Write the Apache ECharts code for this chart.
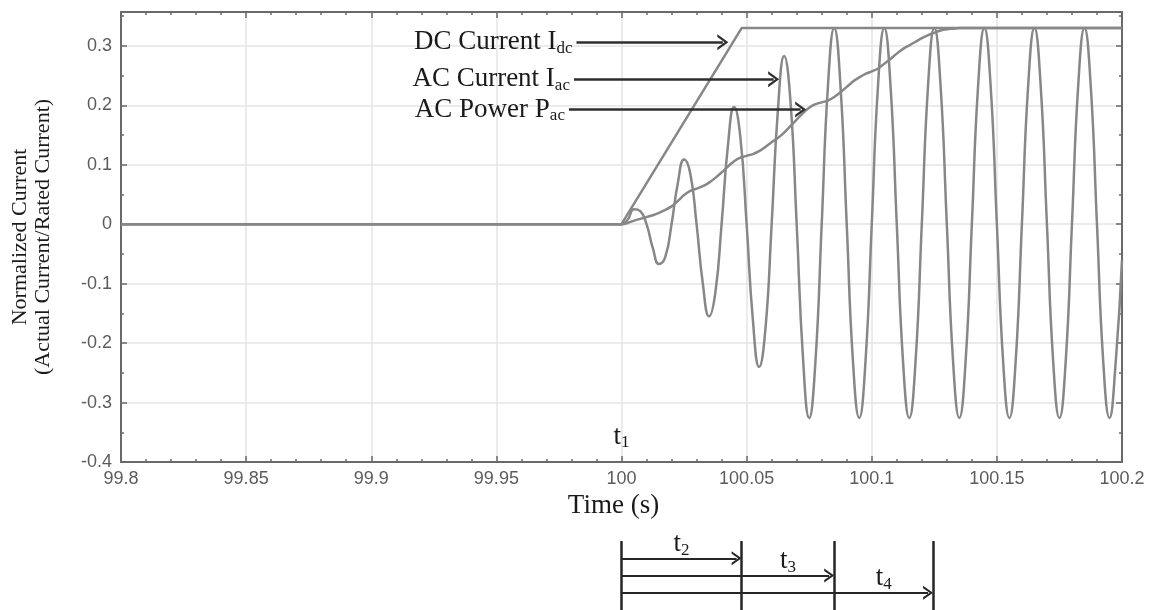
<!DOCTYPE html>
<html>
<head>
<meta charset="utf-8">
<title>Normalized current</title>
<script src="https://cdn.jsdelivr.net/npm/echarts@6/dist/echarts.min.js"></script>
<style>
  html, body { margin: 0; padding: 0; background: #fff; }
  #echarts-current-graph { width: 1153px; height: 610px; }
</style>
</head>
<body>
<div id="echarts-current-graph"></div>
<script>
// DC current ramp
const dcTime = [99.8, 100, 100.048, 100.2];
const dcCurrent = [0, 0, 0.33, 0.33];

// AC current, every 2.5 ms
const acTime = [99.8,
    100, 100.0025, 100.005, 100.0075, 100.01, 100.0125, 100.015, 100.0175,
    100.02, 100.0225, 100.025, 100.0275, 100.03, 100.0325, 100.035, 100.0375,
    100.04, 100.0425, 100.045, 100.0475, 100.05, 100.0525, 100.055, 100.0575,
    100.06, 100.0625, 100.065, 100.0675, 100.07, 100.0725, 100.075, 100.0775,
    100.08, 100.0825, 100.085, 100.0875, 100.09, 100.0925, 100.095, 100.0975,
    100.1, 100.1025, 100.105, 100.1075, 100.11, 100.1125, 100.115, 100.1175,
    100.12, 100.1225, 100.125, 100.1275, 100.13, 100.1325, 100.135, 100.1375,
    100.14, 100.1425, 100.145, 100.1475, 100.15, 100.1525, 100.155, 100.1575,
    100.16, 100.1625, 100.165, 100.1675, 100.17, 100.1725, 100.175, 100.1775,
    100.18, 100.1825, 100.185, 100.1875, 100.19, 100.1925, 100.195, 100.1975,
    100.2];
const acCurrent = [0,
    0, 0.008, 0.025, 0.022, 0, -0.040, -0.067, -0.055,
    0, 0.069, 0.109, 0.085, 0, -0.100, -0.155, -0.115,
    0, 0.131, 0.197, 0.146, 0, -0.161, -0.240, -0.177,
    0, 0.192, 0.283, 0.208, 0, -0.223, -0.326, -0.231,
    0, 0.233, 0.330, 0.233, 0, -0.231, -0.326, -0.231,
    0, 0.233, 0.330, 0.233, 0, -0.231, -0.326, -0.231,
    0, 0.233, 0.330, 0.233, 0, -0.231, -0.326, -0.231,
    0, 0.233, 0.330, 0.233, 0, -0.231, -0.326, -0.231,
    0, 0.233, 0.330, 0.233, 0, -0.231, -0.326, -0.231,
    0, 0.233, 0.330, 0.233, 0, -0.231, -0.326, -0.231,
    -0.06];

// AC power
const powerTime = [99.8,
    100, 100.0025, 100.005, 100.0075, 100.01, 100.0125, 100.015, 100.0175,
    100.02, 100.0225, 100.025, 100.0275, 100.03, 100.0325, 100.035, 100.0375,
    100.04, 100.0425, 100.045, 100.0475, 100.05, 100.0525, 100.055, 100.0575,
    100.06, 100.0625, 100.065, 100.0675, 100.07, 100.0725, 100.075, 100.0775,
    100.08, 100.0825, 100.085, 100.0875, 100.09, 100.0925, 100.095, 100.0975,
    100.1, 100.1025, 100.105, 100.1075, 100.11, 100.1125, 100.115, 100.1175,
    100.12, 100.1225, 100.125, 100.1275, 100.13, 100.1325, 100.135,
    100.2];
const acPower = [0,
    0, 0.002, 0.006, 0.009, 0.012, 0.015, 0.019, 0.024,
    0.030, 0.039, 0.049, 0.056, 0.060, 0.064, 0.070, 0.078,
    0.087, 0.097, 0.106, 0.112, 0.115, 0.118, 0.123, 0.130,
    0.138, 0.145, 0.154, 0.165, 0.176, 0.187, 0.196, 0.202,
    0.205, 0.208, 0.214, 0.222, 0.231, 0.240, 0.247, 0.253,
    0.257, 0.262, 0.270, 0.278, 0.287, 0.295, 0.301, 0.307,
    0.313, 0.318, 0.322, 0.326, 0.328, 0.329, 0.330,
    0.330];

// callouts: text, subscript, arrow level, arrow start and tip
const calloutText = ['DC Current I', 'AC Current I', 'AC Power P'];
const calloutSub = ['dc', 'ac', 'ac'];
const calloutLevel = [0.306, 0.244, 0.193];
const calloutFrom = [99.982, 99.981, 99.979];
const calloutTip = [100.0425, 100.0628, 100.0736];

// timing below the axis
const startTime = 100;
const phaseSub = ['2', '3', '4'];
const phaseEnd = [100.048, 100.085, 100.1245];

const CURVE_COLOR = '#878787';
const AXIS_COLOR = '#6a6a6a';
const GRID_COLOR = '#e4e4e4';
const TICK_TEXT = '#5c5c5c';
const INK = '#1a1a1a';
const SERIF = 'Liberation Serif';
const CHEVRON = 'path://M0,10 L5,0 L10,10 L8.3,10 L5,3.4 L1.7,10 Z';

const subRich = {
    m: {fontFamily: SERIF, fontSize: 27, lineHeight: 30, color: INK},
    s: {fontFamily: SERIF, fontSize: 17, lineHeight: 17, verticalAlign: 'bottom', color: INK}
};

let echarts_current_graph = echarts.init(document.getElementById('echarts-current-graph'));

function pairs(xs, ys) {
    return xs.map((x, i) => [x, ys[i]]);
}

function frameAxis(extra) {
    return Object.assign({
        type: 'value',
        gridIndex: 0,
        axisLine: {show: false, onZero: false, lineStyle: {color: AXIS_COLOR, width: 2}},
        axisTick: {show: true, inside: true, length: 6, lineStyle: {color: AXIS_COLOR, width: 1.5}},
        axisLabel: {show: false},
        splitLine: {show: false}
    }, extra);
}

let calloutLines = calloutText.map((txt, i) => [
    {
        coord: [calloutFrom[i], calloutLevel[i]],
        label: {formatter: '{m|' + txt + '}{s|' + calloutSub[i] + '}'}
    },
    {coord: [calloutTip[i] - 0.002, calloutLevel[i]]}
]);

let timingLines = [[{coord: [startTime, 0]}, {coord: [startTime, 4]}]];
let timingLabels = [];
phaseEnd.forEach((end, i) => {
    timingLines.push([{coord: [end, 0]}, {coord: [end, 4]}]);
    timingLines.push([
        {coord: [startTime, i + 1], symbol: 'none', lineStyle: {width: 2}},
        {coord: [end - 0.002, i + 1], symbol: CHEVRON}
    ]);
    let prev = i === 0 ? startTime : phaseEnd[i - 1];
    timingLabels.push({
        coord: [(prev + end) / 2, i + 0.15],
        label: {formatter: '{m|t}{s|' + phaseSub[i] + '}'}
    });
});

let echarts_options = {
    animation: false,
    grid: [
        {left: 121, right: 31, top: 12, bottom: 148},
        {left: 121, right: 31, top: 541, bottom: 0}
    ],
    xAxis: [
        frameAxis({
            position: 'bottom', min: 99.8, max: 100.2, interval: 0.05,
            axisLine: {show: true, onZero: false, lineStyle: {color: AXIS_COLOR, width: 2}},
            minorTick: {show: true, splitNumber: 5, length: 3, lineStyle: {color: AXIS_COLOR, width: 1.5}},
            splitLine: {show: true, lineStyle: {color: GRID_COLOR, width: 1.5}},
            axisLabel: {show: true, color: TICK_TEXT, fontFamily: 'Liberation Sans', fontSize: 18, margin: 8},
            name: 'Time (s)',
            nameLocation: 'middle',
            nameGap: 20,
            nameTextStyle: {fontFamily: SERIF, fontSize: 27, color: INK, padding: [0, 16, 0, 0]}
        }),
        frameAxis({
            position: 'top', min: 99.8, max: 100.2, interval: 0.05,
            axisLine: {show: true, onZero: false, lineStyle: {color: AXIS_COLOR, width: 2}},
            minorTick: {show: true, splitNumber: 5, length: 3, lineStyle: {color: AXIS_COLOR, width: 1.5}}
        }),
        {type: 'value', gridIndex: 1, min: 99.8, max: 100.2, show: false}
    ],
    yAxis: [
        frameAxis({
            position: 'left', min: -0.4, max: 0.357, interval: 0.1,
            axisLine: {show: true, onZero: false, lineStyle: {color: AXIS_COLOR, width: 2}},
            splitLine: {show: true, showMaxLine: false, lineStyle: {color: GRID_COLOR, width: 1.5}},
            axisLabel: {show: true, showMaxLabel: false, color: TICK_TEXT, fontFamily: 'Liberation Sans', fontSize: 18, margin: 9},
            name: 'Normalized Current\n(Actual Current/Rated Current)',
            nameLocation: 'middle',
            nameRotate: 90,
            nameGap: 66,
            nameTextStyle: {fontFamily: SERIF, fontSize: 22, lineHeight: 23, color: INK}
        }),
        frameAxis({position: 'left', min: -0.4, max: 0.357, interval: 0.05, axisTick: {inside: true, length: 3, lineStyle: {color: AXIS_COLOR, width: 1.5}}}),
        frameAxis({
            position: 'right', min: -0.4, max: 0.357, interval: 0.1,
            axisLine: {show: true, onZero: false, lineStyle: {color: AXIS_COLOR, width: 2}}
        }),
        frameAxis({position: 'right', min: -0.4, max: 0.357, interval: 0.05, axisTick: {inside: true, length: 3, lineStyle: {color: AXIS_COLOR, width: 1.5}}}),
        {type: 'value', gridIndex: 1, min: 0, max: 4, inverse: true, show: false}
    ],
    series: [
        {
            name: 'DC Current',
            type: 'line',
            xAxisIndex: 0,
            yAxisIndex: 0,
            showSymbol: false,
            lineStyle: {color: CURVE_COLOR, width: 2.5},
            data: pairs(dcTime, dcCurrent),
            markLine: {
                silent: true,
                symbol: ['none', CHEVRON],
                symbolSize: [16, 11],
                lineStyle: {color: '#2e2e2e', width: 2.5, type: 'solid'},
                label: {show: true, position: 'start', distance: 4, rich: subRich},
                data: calloutLines
            },
            markPoint: {
                silent: true,
                symbol: 'circle',
                symbolSize: 0,
                label: {show: true, position: 'inside', formatter: '{m|t}{s|1}', rich: subRich},
                data: [{coord: [startTime, -0.357]}]
            }
        },
        {
            name: 'AC Current',
            type: 'line',
            xAxisIndex: 0,
            yAxisIndex: 0,
            showSymbol: false,
            smooth: 0.5,
            lineStyle: {color: CURVE_COLOR, width: 2.5},
            data: pairs(acTime, acCurrent)
        },
        {
            name: 'AC Power',
            type: 'line',
            xAxisIndex: 0,
            yAxisIndex: 0,
            showSymbol: false,
            smooth: 0.3,
            lineStyle: {color: CURVE_COLOR, width: 2.5},
            data: pairs(powerTime, acPower)
        },
        {
            name: 'Timing',
            type: 'line',
            xAxisIndex: 2,
            yAxisIndex: 4,
            data: [],
            markLine: {
                silent: true,
                symbol: ['none', 'none'],
                symbolSize: [14, 10],
                lineStyle: {color: '#262626', width: 2.5, type: 'solid'},
                label: {show: false},
                data: timingLines
            },
            markPoint: {
                silent: true,
                symbol: 'circle',
                symbolSize: 0,
                label: {show: true, position: 'inside', rich: subRich},
                data: timingLabels
            }
        }
    ]
};

echarts_current_graph.setOption(echarts_options);

window.addEventListener('resize', function () {
    echarts_current_graph?.resize();
});
</script>
</body>
</html>
